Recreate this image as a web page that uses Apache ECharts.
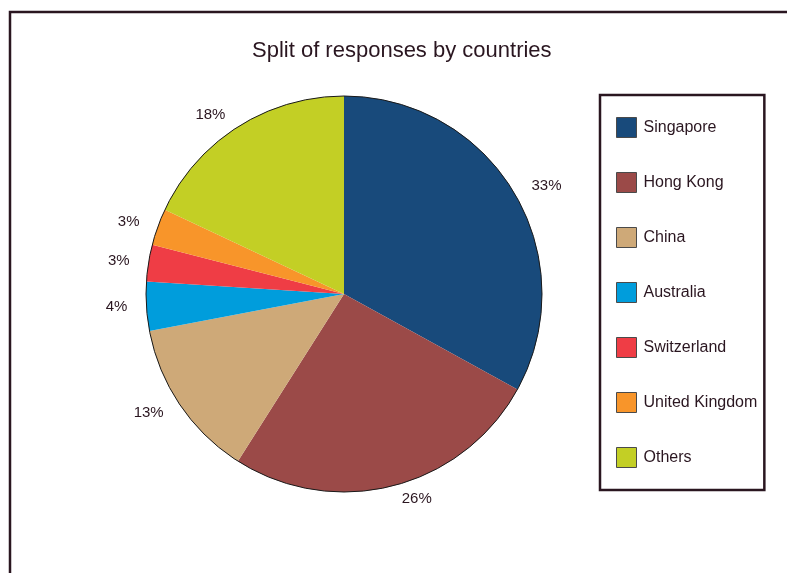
<!DOCTYPE html>
<html>
<head>
<meta charset="utf-8">
<script src="https://cdn.jsdelivr.net/npm/echarts@6/dist/echarts.min.js"></script>
<style>
  html, body { margin: 0; padding: 0; background: #ffffff; }
  #chart { width: 787px; height: 573px; }
</style>
</head>
<body>
<div id="chart"></div>
<script>
// Share of survey responses per country (percent)
const countries = ['Singapore', 'Hong Kong', 'China', 'Australia', 'Switzerland', 'United Kingdom', 'Others'];
const shares = [33, 26, 13, 4, 3, 3, 18];
const sliceColors = ['#184a7b', '#9b4a48', '#cea978', '#009ddc', '#ef3d45', '#f8952a', '#c3cf25'];

const ink = '#2a1620';
const fontFamily = '"Liberation Sans", Arial, sans-serif';

const chart = echarts.init(document.getElementById('chart'), null, { renderer: 'canvas' });

const sliceData = countries.map((name, i) => ({
  name: name,
  value: shares[i],
  itemStyle: { color: sliceColors[i] }
}));

const total = shares.reduce((a, b) => a + b, 0);

chart.setOption({
  backgroundColor: '#ffffff',
  animation: false,
  title: {
    text: 'Split of responses by countries',
    left: 247,
    top: 35,
    textStyle: { fontFamily: fontFamily, fontSize: 22, fontWeight: 'normal', color: ink }
  },
  legend: {
    orient: 'vertical',
    left: 600,
    top: 95,
    data: countries,
    icon: 'rect',
    itemWidth: 20,
    itemHeight: 20,
    itemGap: 34,
    padding: [22, 7, 22, 16],
    borderColor: ink,
    borderWidth: 2.5,
    selectedMode: false,
    itemStyle: { borderColor: '#4a4a4a', borderWidth: 1 },
    textStyle: { fontFamily: fontFamily, fontSize: 16, color: ink, padding: [0, 0, 0, 2] }
  },
  graphic: [
    {
      type: 'rect',
      silent: true,
      shape: { x: 10, y: 12, width: 820, height: 620 },
      style: { fill: 'none', stroke: ink, lineWidth: 2.5 }
    }
  ],
  series: [
    {
      type: 'pie',
      center: [344, 294],
      radius: 198,
      startAngle: 90,
      clockwise: true,
      avoidLabelOverlap: false,
      data: sliceData,
      itemStyle: { borderWidth: 0 },
      label: {
        show: true,
        position: 'outside',
        formatter: '{c}%',
        fontFamily: fontFamily,
        fontSize: 15,
        color: ink
      },
      labelLine: { show: false, length: 14, length2: 0 },
      emphasis: { disabled: true }
    },
    {
      // thin outline around the pie rim
      type: 'pie',
      center: [344, 294],
      radius: 198,
      silent: true,
      legendHoverLink: false,
      data: [{ name: 'rim', value: total }],
      itemStyle: { color: 'rgba(0,0,0,0)', borderColor: '#1a1a1a', borderWidth: 1 },
      label: { show: false },
      labelLine: { show: false },
      emphasis: { disabled: true },
      z: 3
    }
  ]
});
</script>
</body>
</html>
